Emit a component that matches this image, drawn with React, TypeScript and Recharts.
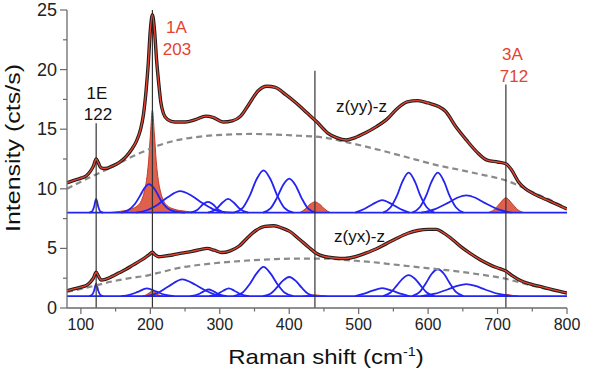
import React from 'react';
import { ComposedChart, Line, Area, XAxis, YAxis } from 'recharts';

type Pt = [number, number];

// measured spectra (black points, red fit drawn over them)
const yyMeasured: Pt[] = [
  [80, 10.5], [90, 10.7], [100, 10.9], [108, 11.1], [114, 11.5], [118, 11.9], [122, 12.5], [125, 12.2],
  [129, 11.75], [135, 11.7], [145, 11.9], [155, 12.2], [165, 12.7], [173, 13.3], [180, 14.0], [186, 15.0],
  [190, 16.2], [194, 18.3], [197, 20.5], [200, 23.3], [203, 24.6], [206, 23.3], [209, 20.8], [212, 18.9],
  [215, 17.3], [219, 16.3], [225, 15.8], [235, 15.6], [250, 15.6], [265, 15.8], [280, 16.1], [290, 16.0],
  [305, 15.6], [318, 15.7], [330, 16.1], [342, 17.1], [355, 18.2], [368, 18.6], [380, 18.5], [395, 17.9],
  [410, 17.2], [425, 16.4], [440, 15.6], [455, 14.7], [468, 14.3], [482, 14.1], [495, 14.3], [510, 14.7],
  [525, 15.2], [540, 15.8], [555, 16.7], [570, 17.3], [585, 17.4], [600, 17.2], [615, 16.9], [625, 16.5],
  [640, 15.2], [655, 14.1], [670, 13.1], [685, 12.4], [700, 12.25], [712, 12.1], [720, 11.6], [730, 10.6],
  [740, 10.0], [755, 9.5], [770, 9.1], [785, 8.7], [800, 8.3],
];

const yxMeasured: Pt[] = [
  [80, 1.45], [90, 1.6], [100, 1.75], [108, 1.9], [114, 2.2], [118, 2.5], [122, 3.0], [125, 2.7],
  [129, 2.35], [135, 2.4], [145, 2.65], [155, 2.95], [165, 3.25], [175, 3.6], [185, 3.95], [193, 4.25],
  [198, 4.45], [203, 4.68], [207, 4.45], [212, 4.3], [220, 4.35], [232, 4.45], [245, 4.6], [260, 4.75],
  [272, 4.9], [282, 5.0], [292, 4.85], [303, 4.65], [315, 4.8], [328, 5.2], [340, 5.9], [352, 6.5],
  [365, 6.85], [378, 6.9], [390, 6.7], [400, 6.45], [415, 5.75], [428, 5.1], [440, 4.55], [452, 4.3],
  [465, 4.2], [480, 4.15], [495, 4.3], [510, 4.6], [525, 4.95], [540, 5.4], [555, 5.85], [570, 6.25],
  [585, 6.5], [600, 6.6], [612, 6.6], [622, 6.3], [635, 5.75], [648, 5.1], [660, 4.6], [675, 4.05],
  [690, 3.6], [703, 3.3], [712, 3.1], [720, 2.75], [733, 2.3], [748, 2.0], [765, 1.75], [782, 1.5],
  [800, 1.25],
];

// background (grey dashed)
const yyBackground: Pt[] = [
  [80, 10.0], [100, 10.6], [122, 11.2], [147, 11.9], [170, 12.6], [193, 13.2], [215, 13.7], [240, 14.1],
  [275, 14.4], [310, 14.55], [345, 14.6], [380, 14.55], [415, 14.45], [450, 14.3], [487, 13.85], [520, 13.4],
  [550, 12.95], [582, 12.45], [615, 11.95], [645, 11.6], [676, 11.2], [700, 10.9], [712, 10.7], [735, 10.15],
  [755, 9.6], [778, 9.0], [800, 8.35],
];

const yxBackground: Pt[] = [
  [80, 1.35], [100, 1.6], [122, 1.9], [147, 2.25], [170, 2.5], [193, 2.7], [215, 3.0], [240, 3.35],
  [275, 3.65], [310, 3.85], [345, 4.0], [380, 4.1], [415, 4.15], [450, 4.15], [487, 4.0], [520, 3.85],
  [550, 3.65], [582, 3.45], [615, 3.25], [645, 3.05], [676, 2.8], [712, 2.45], [735, 2.1], [755, 1.8],
  [778, 1.5], [800, 1.2],
];

// fitted components, z(yy)-z (offset 8)
const yy122: Pt[] = [[112, 8], [116, 8.1], [119, 8.5], [122, 9.15], [125, 8.5], [128, 8.1], [132, 8]];
const yy198: Pt[] = [[158, 8], [168, 8.2], [178, 8.75], [186, 9.5], [192, 10.1], [198, 10.4], [204, 10.15], [210, 9.6], [216, 8.95], [224, 8.4], [235, 8.1], [250, 8]];
const yy245: Pt[] = [[180, 8], [195, 8.2], [210, 8.65], [225, 9.3], [243, 9.8], [260, 9.4], [275, 8.8], [290, 8.3], [305, 8.05], [320, 8]];
const yy286: Pt[] = [[258, 8], [268, 8.25], [276, 8.7], [283, 8.9], [290, 8.7], [298, 8.25], [308, 8]];
const yy315: Pt[] = [[283, 8], [295, 8.3], [304, 8.85], [312, 9.15], [320, 8.85], [329, 8.3], [341, 8]];
const yy365: Pt[] = [[320, 8], [333, 8.4], [343, 9.4], [353, 10.8], [363, 11.55], [373, 10.8], [383, 9.4], [393, 8.4], [406, 8]];
const yy405: Pt[] = [[362, 8], [373, 8.35], [382, 9.2], [391, 10.3], [400, 10.85], [409, 10.3], [418, 9.2], [427, 8.35], [438, 8]];
const yy535: Pt[] = [[495, 8], [508, 8.3], [520, 8.7], [534, 9.05], [548, 8.7], [560, 8.3], [573, 8]];
const yy572: Pt[] = [[535, 8], [546, 8.45], [555, 9.4], [563, 10.6], [572, 11.35], [581, 10.6], [589, 9.4], [598, 8.45], [609, 8]];
const yy614: Pt[] = [[577, 8], [588, 8.45], [597, 9.4], [605, 10.6], [614, 11.35], [623, 10.6], [631, 9.4], [640, 8.45], [651, 8]];
const yy655: Pt[] = [[590, 8], [610, 8.3], [628, 8.8], [642, 9.25], [655, 9.45], [668, 9.25], [682, 8.8], [700, 8.3], [720, 8]];
// A modes (red filled)
const yy203: Pt[] = [
  [140, 8], [158, 8.12], [172, 8.3], [182, 8.6], [187, 9.0], [191.5, 9.8], [194.5, 10.7], [197.5, 12.3],
  [200.2, 14.6], [203, 16.6], [205.8, 14.6], [208.5, 12.3], [211.5, 10.7], [214.5, 9.8], [219, 9.0],
  [224, 8.6], [234, 8.3], [250, 8.12], [270, 8],
];
const yy437: Pt[] = [[415, 8], [423, 8.3], [430, 8.7], [437, 8.9], [444, 8.7], [451, 8.3], [459, 8]];
const yy712: Pt[] = [[686, 8], [695, 8.25], [703, 8.75], [712, 9.25], [721, 8.75], [729, 8.25], [738, 8]];

// fitted components, z(yx)-z (offset 1)
const yx122: Pt[] = [[112, 1], [116, 1.1], [119, 1.45], [122, 2.05], [125, 1.45], [128, 1.1], [132, 1]];
const yx198: Pt[] = [[158, 1], [170, 1.1], [182, 1.35], [195, 1.65], [208, 1.4], [220, 1.12], [234, 1]];
const yx245: Pt[] = [[195, 1], [210, 1.25], [226, 1.8], [246, 2.4], [265, 1.95], [280, 1.45], [296, 1.08], [308, 1]];
const yx286: Pt[] = [[258, 1], [269, 1.15], [277, 1.4], [284, 1.55], [291, 1.4], [299, 1.15], [310, 1]];
const yx315: Pt[] = [[285, 1], [296, 1.15], [305, 1.45], [313, 1.65], [321, 1.45], [330, 1.15], [342, 1]];
const yx365: Pt[] = [[320, 1], [333, 1.3], [343, 2.0], [353, 2.9], [363, 3.45], [373, 2.9], [383, 2.0], [393, 1.3], [406, 1]];
const yx405: Pt[] = [[362, 1], [373, 1.2], [382, 1.7], [391, 2.3], [400, 2.6], [409, 2.3], [418, 1.7], [427, 1.2], [438, 1]];
const yx535: Pt[] = [[495, 1], [508, 1.2], [520, 1.45], [534, 1.67], [548, 1.45], [560, 1.2], [573, 1]];
const yx572: Pt[] = [[535, 1], [546, 1.3], [555, 1.9], [563, 2.45], [572, 2.75], [581, 2.45], [589, 1.9], [598, 1.3], [609, 1]];
const yx614: Pt[] = [[577, 1], [588, 1.35], [597, 2.1], [605, 2.85], [614, 3.25], [623, 2.85], [631, 2.1], [640, 1.35], [651, 1]];
const yx655: Pt[] = [[590, 1], [610, 1.2], [628, 1.55], [642, 1.85], [655, 2.0], [668, 1.85], [682, 1.55], [700, 1.2], [720, 1]];
const yx203: Pt[] = [[188, 1], [194, 1.1], [199, 1.3], [203, 1.45], [207, 1.3], [212, 1.1], [218, 1]];
const yx437: Pt[] = [[420, 1], [429, 1.05], [437, 1.1], [445, 1.05], [454, 1]];
const yx712: Pt[] = [[694, 1], [703, 1.06], [712, 1.14], [721, 1.06], [730, 1]];

const offsetLines: Pt[][] = [[[80, 8], [800, 8]], [[80, 1], [800, 1]]];

// mode positions and how high their marker lines reach
const markerX = [122, 203, 437, 712];
const markerTop = [15.5, 25, 19.9, 18.75];

const xTicks = [100, 150, 200, 250, 300, 350, 400, 450, 500, 550, 600, 650, 700, 750, 800];
const yTicks = [0, 2.5, 5, 7.5, 10, 12.5, 15, 17.5, 20, 22.5, 25];

const blueComponents = [yy122, yy198, yy245, yy286, yy315, yy365, yy405, yy535, yy572, yy614, yy655,
  yx122, yx198, yx245, yx286, yx315, yx365, yx405, yx535, yx572, yx614, yx655];
const redComponents: { pts: Pt[]; base: number }[] = [
  { pts: yy203, base: 8 }, { pts: yy437, base: 8 }, { pts: yy712, base: 8 },
  { pts: yx203, base: 1 }, { pts: yx437, base: 1 }, { pts: yx712, base: 1 },
];

const toXY = (a: Pt[]) => a.map(([x, y]) => ({ x, y }));

const AXIS = '#6b6b6b';
const BLUE = '#2323f2';
const RED = '#e5432f';
const FONT = '"Liberation Sans", Arial, sans-serif';

const BottomTick = ({ x, y, payload }: any) => {
  const major = payload.value % 100 === 0;
  return (
    <g>
      <line x1={x} y1={y} x2={x} y2={y + (major ? 6 : 3.5)} stroke={AXIS} strokeWidth={1.2} />
      {major && (
        <text x={x} y={y + 22} textAnchor="middle" fontSize={16} fontFamily={FONT} fill="#222">
          {payload.value}
        </text>
      )}
    </g>
  );
};

const TopTick = ({ x, y }: any) => (
  <line x1={x} y1={y} x2={x} y2={y + 5} stroke={AXIS} strokeWidth={1.2} />
);

const LeftTick = ({ x, y, payload }: any) => {
  const major = payload.value % 5 === 0;
  return (
    <g>
      <line x1={x} y1={y} x2={x - (major ? 7 : 4)} y2={y} stroke={AXIS} strokeWidth={1.2} />
      {major && (
        <text x={x - 10} y={y + 6} textAnchor="end" fontSize={18} fontFamily={FONT} fill="#222">
          {payload.value}
        </text>
      )}
    </g>
  );
};

const RightTick = ({ x, y }: any) => (
  <line x1={x} y1={y} x2={x - 5} y2={y} stroke={AXIS} strokeWidth={1.2} />
);

export default function App() {
  return (
    <div style={{ position: 'absolute', left: 0, top: 0, width: 589, height: 376, background: '#fff' }}>
      <ComposedChart width={589} height={376} margin={{ top: 10, right: 22, bottom: 0, left: 0 }}>
        <XAxis dataKey="x" type="number" domain={[80, 800]} ticks={xTicks} interval={0} height={68}
          allowDataOverflow stroke={AXIS} strokeWidth={1.3} tickLine={false} tickSize={0} tickMargin={0}
          tick={<BottomTick />} />
        <XAxis xAxisId="top" orientation="top" dataKey="x" type="number" domain={[80, 800]} ticks={xTicks}
          interval={0} height={0} allowDataOverflow stroke={AXIS} strokeWidth={1.3} tickLine={false}
          tickSize={0} tickMargin={0} tick={<TopTick />} />
        <YAxis type="number" domain={[0, 25]} ticks={yTicks} interval={0} width={67} allowDataOverflow
          stroke={AXIS} strokeWidth={1.3} tickLine={false} tickSize={0} tickMargin={0} tick={<LeftTick />} />
        <YAxis yAxisId="right" orientation="right" type="number" domain={[0, 25]} ticks={yTicks} interval={0}
          width={0} stroke={AXIS} strokeWidth={1.3} tickLine={false} tickSize={0} tickMargin={0}
          tick={<RightTick />} />

        {offsetLines.map((l, i) => (
          <Line key={'off' + i} data={toXY(l)} dataKey="y" type="linear" stroke={BLUE} strokeWidth={1.8}
            dot={false} activeDot={false} isAnimationActive={false} />
        ))}
        {redComponents.map((c, i) => (
          <Area key={'red' + i} data={toXY(c.pts)} dataKey="y" type="monotone" baseValue={c.base}
            stroke="#c23a26" strokeWidth={1} fill="#e0604e" fillOpacity={1}
            dot={false} activeDot={false} isAnimationActive={false} />
        ))}
        {blueComponents.map((c, i) => (
          <Line key={'blue' + i} data={toXY(c)} dataKey="y" type="monotone" stroke={BLUE} strokeWidth={1.8}
            dot={false} activeDot={false} isAnimationActive={false} />
        ))}
        <Line data={toXY(yyBackground)} dataKey="y" type="monotone" stroke="#8a8a8a" strokeWidth={2.2}
          strokeDasharray="6 4" dot={false} activeDot={false} isAnimationActive={false} />
        <Line data={toXY(yxBackground)} dataKey="y" type="monotone" stroke="#8a8a8a" strokeWidth={2.2}
          strokeDasharray="6 4" dot={false} activeDot={false} isAnimationActive={false} />
        {markerX.map((mx, i) => (
          <Line key={'mk' + i} data={toXY([[mx, 0], [mx, markerTop[i]]])} dataKey="y" type="linear"
            stroke="#333" strokeWidth={1.2} dot={false} activeDot={false} isAnimationActive={false} />
        ))}
        <Line data={toXY(yyMeasured)} dataKey="y" type="monotone" stroke="#1c1c1c" strokeWidth={3.4}
          dot={false} activeDot={false} isAnimationActive={false} />
        <Line data={toXY(yxMeasured)} dataKey="y" type="monotone" stroke="#1c1c1c" strokeWidth={3.4}
          dot={false} activeDot={false} isAnimationActive={false} />
        <Line data={toXY(yyMeasured)} dataKey="y" type="monotone" stroke={RED} strokeWidth={1.4}
          dot={false} activeDot={false} isAnimationActive={false} />
        <Line data={toXY(yxMeasured)} dataKey="y" type="monotone" stroke={RED} strokeWidth={1.4}
          dot={false} activeDot={false} isAnimationActive={false} />
      </ComposedChart>

      <svg width={589} height={376} style={{ position: 'absolute', left: 0, top: 0, pointerEvents: 'none' }}
        fontFamily={FONT}>
        <g fontSize={17} textAnchor="middle">
          <text x={97} y={99} fill="#111">1E</text>
          <text x={98} y={120} fill="#111">122</text>
          <text x={176.5} y={33} fill={RED}>1A</text>
          <text x={177} y={55} fill={RED}>203</text>
          <text x={512.5} y={60} fill={RED}>3A</text>
          <text x={514} y={82} fill={RED}>712</text>
          <text x={361.5} y={112} fill="#111">z(yy)-z</text>
          <text x={359.5} y={242} fill="#111">z(yx)-z</text>
        </g>
        <text transform="translate(326 364) scale(1.2 1)" textAnchor="middle" fontSize={20} fill="#111">
          Raman shift (cm<tspan dy={-8} fontSize={12}>-1</tspan><tspan dy={8}>)</tspan>
        </text>
        <text transform="translate(20 148) rotate(-90) scale(1.19 1)" textAnchor="middle" fontSize={21} fill="#111">
          Intensity (cts/s)
        </text>
      </svg>
    </div>
  );
}
